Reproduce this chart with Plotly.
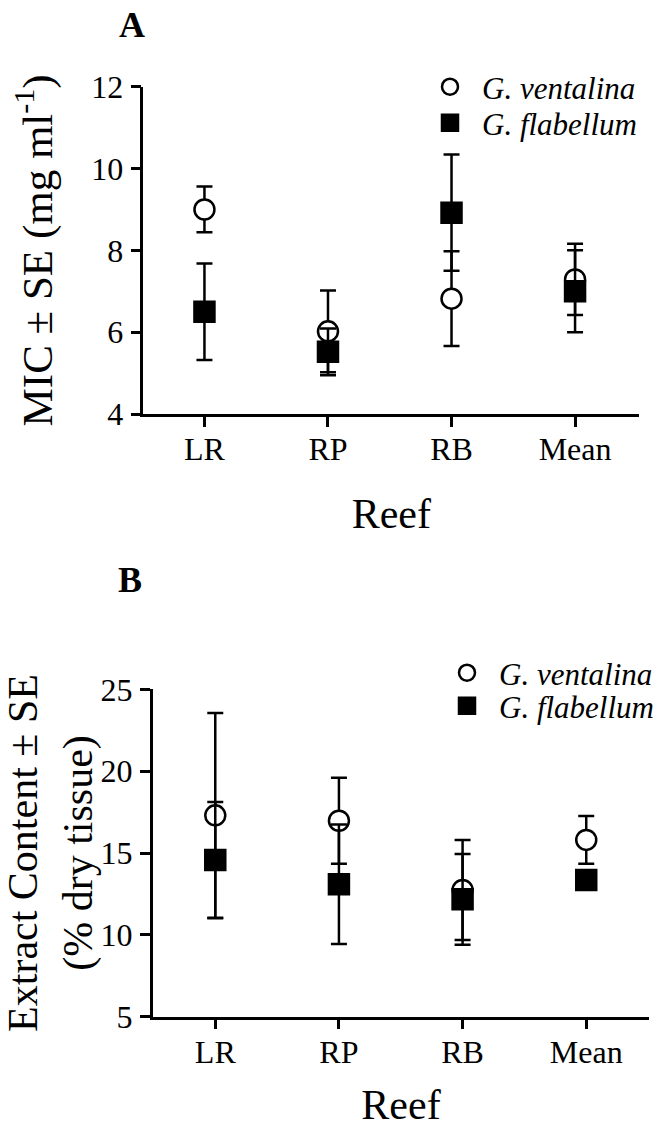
import plotly.graph_objects as go

reefs = ["LR", "RP", "RB", "Mean"]

# Panel A: MIC (mg ml-1)
mic_ventalina = [9.0, 6.02, 6.82, 7.29]
mic_ventalina_se = [0.56, 1.0, 1.16, 0.87]
mic_flabellum = [6.5, 5.52, 8.92, 7.0]
mic_flabellum_se = [1.18, 0.57, 1.42, 1.0]

# Panel B: Extract content (% dry tissue)
ext_ventalina = [17.3, 16.97, 12.74, 15.8]
ext_ventalina_se = [6.25, 2.63, 3.05, 1.46]
ext_flabellum = [14.57, 13.09, 12.17, 13.35]
ext_flabellum_se = [3.55, 3.65, 2.77, 0.5]

W, H = 664, 1128
FONT = "Liberation Serif"

def px_x(p):
    return p / W

def px_y(p):
    return 1 - p / H

fig = go.Figure()

def add_series(x, y, se, name, symbol, fill, xa, ya, legend):
    fig.add_trace(go.Scatter(
        x=x, y=y, mode="markers", name=name,
        xaxis=xa, yaxis=ya, legend=legend,
        marker=dict(symbol=symbol, size=20, color=fill,
                    line=dict(color="black", width=2.5)),
        error_y=dict(type="data", array=se, visible=True,
                     color="black", thickness=2.5, width=8),
    ))

add_series(reefs, mic_ventalina, mic_ventalina_se, "G. ventalina", "circle", "white", "x", "y", "legend")
add_series(reefs, mic_flabellum, mic_flabellum_se, "G. flabellum", "square", "black", "x", "y", "legend2")
add_series(reefs, ext_ventalina, ext_ventalina_se, "G. ventalina", "circle", "white", "x2", "y2", "legend3")
add_series(reefs, ext_flabellum, ext_flabellum_se, "G. flabellum", "square", "black", "x2", "y2", "legend4")

axis_common = dict(
    showline=True, linecolor="black", linewidth=2.5,
    ticks="outside", ticklen=10, tickwidth=2.5, tickcolor="black",
    showgrid=False, zeroline=False,
    tickfont=dict(family=FONT, size=32, color="black"),
)

def leg(cx, cy):
    return dict(x=px_x(cx - 32), y=px_y(cy), xanchor="left", yanchor="middle",
                bgcolor="rgba(0,0,0,0)", borderwidth=0,
                font=dict(family=FONT, size=31, style="italic", color="black"),
                tracegroupgap=0, itemwidth=54)

fig.update_layout(
    width=W, height=H,
    margin=dict(l=0, r=0, t=0, b=0, autoexpand=False),
    paper_bgcolor="white", plot_bgcolor="white",
    font=dict(family=FONT, color="black"),
    xaxis=dict(domain=[px_x(143.3), px_x(639.3)], anchor="y",
               type="category", categoryorder="array", categoryarray=reefs,
               range=[-0.495, 3.52], ticklabelstandoff=-5,
               title=dict(text="Reef", font=dict(family=FONT, size=42), standoff=33),
               **axis_common),
    yaxis=dict(domain=[px_y(414), px_y(86.7)], anchor="x",
               range=[4, 12], tickvals=[4, 6, 8, 10, 12],
               ticklabelstandoff=1,
               title=dict(text="MIC ± SE (mg ml<sup>-1</sup>)",
                          font=dict(family=FONT, size=43), standoff=26),
               **axis_common),
    xaxis2=dict(domain=[px_x(152.7), px_x(649.3)], anchor="y2",
                type="category", categoryorder="array", categoryarray=reefs,
                range=[-0.506, 3.51], ticklabelstandoff=-5,
                title=dict(text="Reef", font=dict(family=FONT, size=42), standoff=30),
                **axis_common),
    yaxis2=dict(domain=[px_y(1016.7), px_y(689.3)], anchor="x2",
                range=[5, 25], tickvals=[5, 10, 15, 20, 25],
                ticklabelstandoff=1,
                title=dict(text="Extract Content ± SE<br>(% dry tissue)",
                           font=dict(family=FONT, size=42), standoff=10),
                **axis_common),
    legend=leg(450, 87),
    legend2=leg(450, 123),
    legend3=leg(467, 673),
    legend4=leg(467, 706),
    showlegend=True,
    annotations=[
        dict(text="<b>A</b>", x=px_x(132), y=px_y(25), xref="paper", yref="paper",
             xanchor="center", yanchor="middle",
             showarrow=False, font=dict(family=FONT, size=36, color="black")),
        dict(text="<b>B</b>", x=px_x(130), y=px_y(580), xref="paper", yref="paper",
             xanchor="center", yanchor="middle",
             showarrow=False, font=dict(family=FONT, size=36, color="black")),
    ],
)

fig.write_html("out.html", config={"displayModeBar": False},
               post_script="document.body.style.margin='0';document.body.style.overflow='hidden';")
